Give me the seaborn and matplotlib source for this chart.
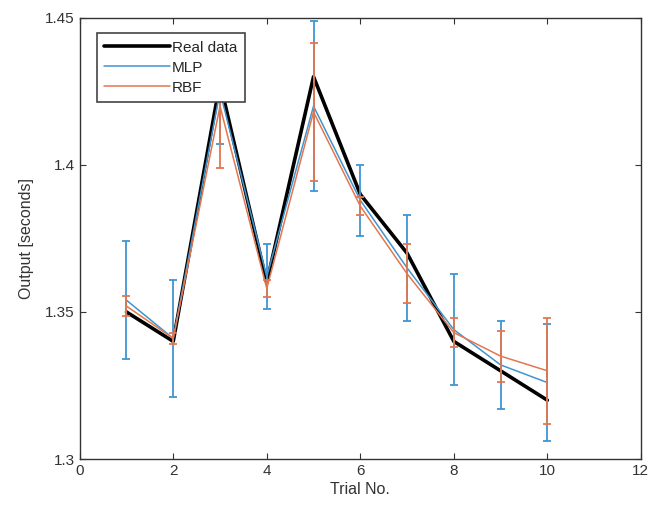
import matplotlib
matplotlib.use("Agg")
import matplotlib.pyplot as plt
import seaborn as sns
import pandas as pd

trials = [1, 2, 3, 4, 5, 6, 7, 8, 9, 10]
real_data = [1.350, 1.340, 1.428, 1.360, 1.430, 1.390, 1.370, 1.340, 1.330, 1.320]
mlp = [1.354, 1.341, 1.425, 1.362, 1.420, 1.388, 1.365, 1.344, 1.332, 1.326]
mlp_err = [0.020, 0.020, 0.018, 0.011, 0.029, 0.012, 0.018, 0.019, 0.015, 0.020]
rbf = [1.352, 1.341, 1.420, 1.358, 1.418, 1.386, 1.363, 1.343, 1.335, 1.330]
rbf_err = [0.0035, 0.002, 0.021, 0.003, 0.0235, 0.003, 0.010, 0.005, 0.0087, 0.018]

x_ticks = [0, 2, 4, 6, 8, 10, 12]
y_ticks = [1.3, 1.35, 1.4, 1.45]

c_real = "#000000"
c_mlp = "#3f95d0"
c_rbf = "#e2774f"

sns.set_style("white")
plt.rcParams["font.family"] = ["Liberation Sans", "DejaVu Sans"]

fig = plt.figure(figsize=(6.48, 5.12), dpi=100)
ax = fig.add_axes([0.123, 0.1035, 0.866, 0.8615])

df = pd.DataFrame({"trial": trials, "real": real_data, "mlp": mlp, "rbf": rbf})

sns.lineplot(data=df, x="trial", y="real", ax=ax, color=c_real, linewidth=2.6,
             label="Real data", zorder=3)
sns.lineplot(data=df, x="trial", y="mlp", ax=ax, color=c_mlp, linewidth=1.1,
             label="MLP", zorder=4)
sns.lineplot(data=df, x="trial", y="rbf", ax=ax, color=c_rbf, linewidth=1.1,
             label="RBF", zorder=5)

ax.errorbar(trials, mlp, yerr=mlp_err, fmt="none", ecolor=c_mlp, elinewidth=1.3,
            capsize=3.2, capthick=1.3, zorder=4)
ax.errorbar(trials, rbf, yerr=rbf_err, fmt="none", ecolor=c_rbf, elinewidth=1.3,
            capsize=3.2, capthick=1.3, zorder=5)

ax.set_xlim(0, 12)
ax.set_ylim(1.3, 1.45)
ax.set_xticks(x_ticks)
ax.set_xticklabels([str(t) for t in x_ticks])
ax.set_yticks(y_ticks)
ax.set_yticklabels(["1.3", "1.35", "1.4", "1.45"])
ax.set_xlabel("Trial No.", fontsize=11.5, color="#333333", labelpad=3)
ax.set_ylabel("Output [seconds]", fontsize=11.5, color="#333333", labelpad=8)

ax.tick_params(direction="in", length=4, width=0.8, colors="#333333",
               top=True, right=True, bottom=True, left=True, labelsize=11)
for s in ax.spines.values():
    s.set_visible(True)
    s.set_color("#333333")
    s.set_linewidth(1.0)

leg = ax.legend(loc="upper left", bbox_to_anchor=(0.03, 0.966), frameon=True,
                fancybox=False, edgecolor="#444444", fontsize=11,
                handlelength=4.3, handletextpad=0.15, borderpad=0.5,
                labelspacing=0.4, borderaxespad=0.0, framealpha=1.0)
leg.get_frame().set_linewidth(1.2)
leg.set_zorder(10)

fig.savefig("out.png", dpi=100)
